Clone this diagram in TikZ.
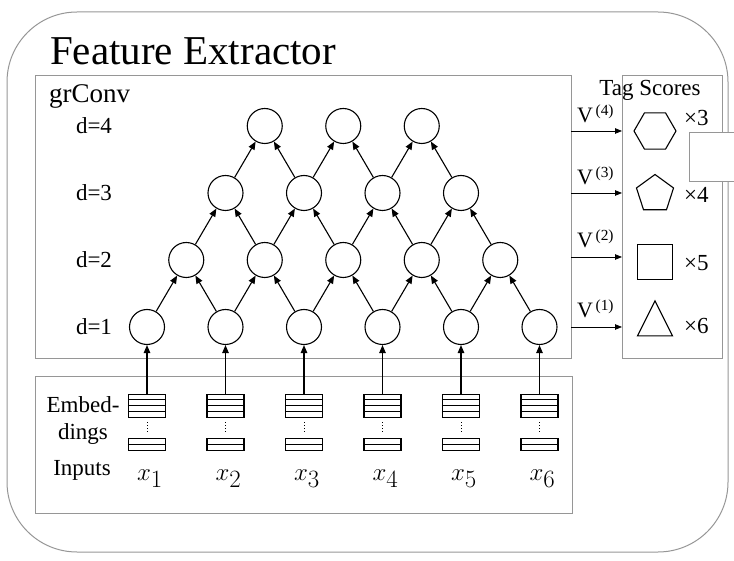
\documentclass[tikz,border=0pt]{standalone}
\usepackage{fontspec}
\setmainfont{Liberation Serif}
\usetikzlibrary{arrows.meta,shapes.geometric}
\definecolor{frame}{RGB}{150,150,150}
\begin{document}
\begin{tikzpicture}[x=1pt,y=-1pt,
  box/.style={draw=frame,line width=1pt,anchor=north west,inner sep=0pt},
  cnode/.style={circle,draw,line width=1.1pt,minimum size=35pt,inner sep=0pt},
  arr/.style={line width=1.1pt,-{Triangle[length=8pt,width=6.5pt]}},
  varr/.style={line width=0.8pt,-{Triangle[length=7pt,width=5.5pt]}},
  stk/.style={draw,line width=1.4pt,minimum width=37pt,inner sep=0pt,anchor=north},
  lbl/.style={font=\fontsize{23}{25}\selectfont,inner sep=0pt},
  vlbl/.style={inner sep=0pt,anchor=base west,font=\fontsize{22}{24}\selectfont},
  mlbl/.style={inner sep=0pt,anchor=base west,font=\fontsize{23}{25}\selectfont},
  shp/.style={draw,line width=1.1pt,inner sep=0pt}]
\useasboundingbox (0,0) rectangle (734,561);
% outer rounded frame
\draw[frame,line width=1pt,rounded corners=70pt] (7,12) rectangle (728,552);
\node[inner sep=0pt,anchor=base west,font=\fontsize{41}{44}\selectfont] (title) at (50,65) {Feature Extractor};
% boxes
\node[box,minimum width=536pt,minimum height=283pt] (gr) at (35,75) {};
\node[box,minimum width=100pt,minimum height=283pt] (ts) at (622,75) {};
\node[box,minimum width=537pt,minimum height=137pt] (emb) at (35,376) {};
\node[inner sep=0pt,anchor=base west,font=\fontsize{27}{30}\selectfont] (grl) at (49,103) {grConv};
\node[lbl,anchor=base] (tsl) at (650,96) {Tag Scores};
% extra box at right
\draw[frame,line width=1pt,fill=white] (740,133) -- (689,133) -- (689,182) -- (740,182);
% d labels
\foreach \r/\yy in {1/327,2/260,3/193,4/126}{
  \node[lbl] (d\r) at (94,\yy) {d=\r};
}
% circles
\foreach \r in {1,...,4}{
  \pgfmathtruncatemacro\n{7-\r}
  \foreach \i in {1,...,\n}{
    \node[cnode] (c\r-\i) at ({147+78.5*(\i-1)+39.25*(\r-1)},{327-67*(\r-1)}) {};
  }
}
% arrows between layers
\foreach \r in {1,2,3}{
  \pgfmathtruncatemacro\n{6-\r}
  \pgfmathtruncatemacro\u{\r+1}
  \foreach \i in {1,...,\n}{
    \pgfmathtruncatemacro\j{\i+1}
    \draw[arr] (c\r-\i) -- (c\u-\i);
    \draw[arr] (c\r-\j) -- (c\u-\i);
  }
}
% embeddings
\foreach \i in {1,...,6}{
  \pgfmathsetmacro\xc{147+78.5*(\i-1)}
  \node[stk,minimum height=23pt] (e\i) at (\xc,394) {};
  \draw[line width=1.2pt] ([yshift=-5.75pt]e\i.north west) -- ([yshift=-5.75pt]e\i.north east)
    ([yshift=-11.5pt]e\i.north west) -- ([yshift=-11.5pt]e\i.north east)
    ([yshift=-17.25pt]e\i.north west) -- ([yshift=-17.25pt]e\i.north east);
  \node[stk,minimum height=12pt] (b\i) at (\xc,438) {};
  \draw[line width=1.2pt] (b\i.west) -- (b\i.east);
  \draw[line width=1pt,dotted] ([yshift=-4pt]e\i.south) -- ([yshift=4pt]b\i.north);
  \draw[arr] (e\i.north) -- (c1-\i);
  \node[inner sep=0pt,anchor=base,font=\fontsize{34}{36}\selectfont] (x\i) at (\xc+3,480) {$x_{\i}$};
}
\node[lbl] (l1) at (83,405) {Embed-};
\node[lbl] (l2) at (83,434) {dings};
\node[lbl] (l3) at (82,470) {Inputs};
% tag score shapes
\node[shp,regular polygon,regular polygon sides=6,minimum size=42pt] (hex) at (655,131) {};
\node[shp,regular polygon,regular polygon sides=5,minimum size=39pt] (pen) at (655,194) {};
\node[shp,rectangle,minimum width=35pt,minimum height=35pt] (sq) at (655,262) {};
\node[shp,isosceles triangle,isosceles triangle apex angle=53,shape border rotate=90,minimum height=35pt,minimum width=35pt,isosceles triangle stretches] (tri) at (655,325) {};
\foreach \k/\yy in {4/131,3/193,2/257,1/327}{
  \coordinate (vs\k) at (571,\yy);
  \coordinate (ve\k) at (622,\yy);
  \draw[varr] (vs\k) -- (ve\k);
}
\node[vlbl] (v4) at (577,123) {V\textsuperscript{\,(4)}};
\node[vlbl] (v3) at (577,185) {V\textsuperscript{\,(3)}};
\node[vlbl] (v2) at (577,248) {V\textsuperscript{\,(2)}};
\node[vlbl] (v1) at (577,318) {V\textsuperscript{\,(1)}};
\node[mlbl] (m3) at (684,126) {×3};
\node[mlbl] (m4) at (684,203) {×4};
\node[mlbl] (m5) at (684,271) {×5};
\node[mlbl] (m6) at (684,334) {×6};
\end{tikzpicture}
\end{document}
